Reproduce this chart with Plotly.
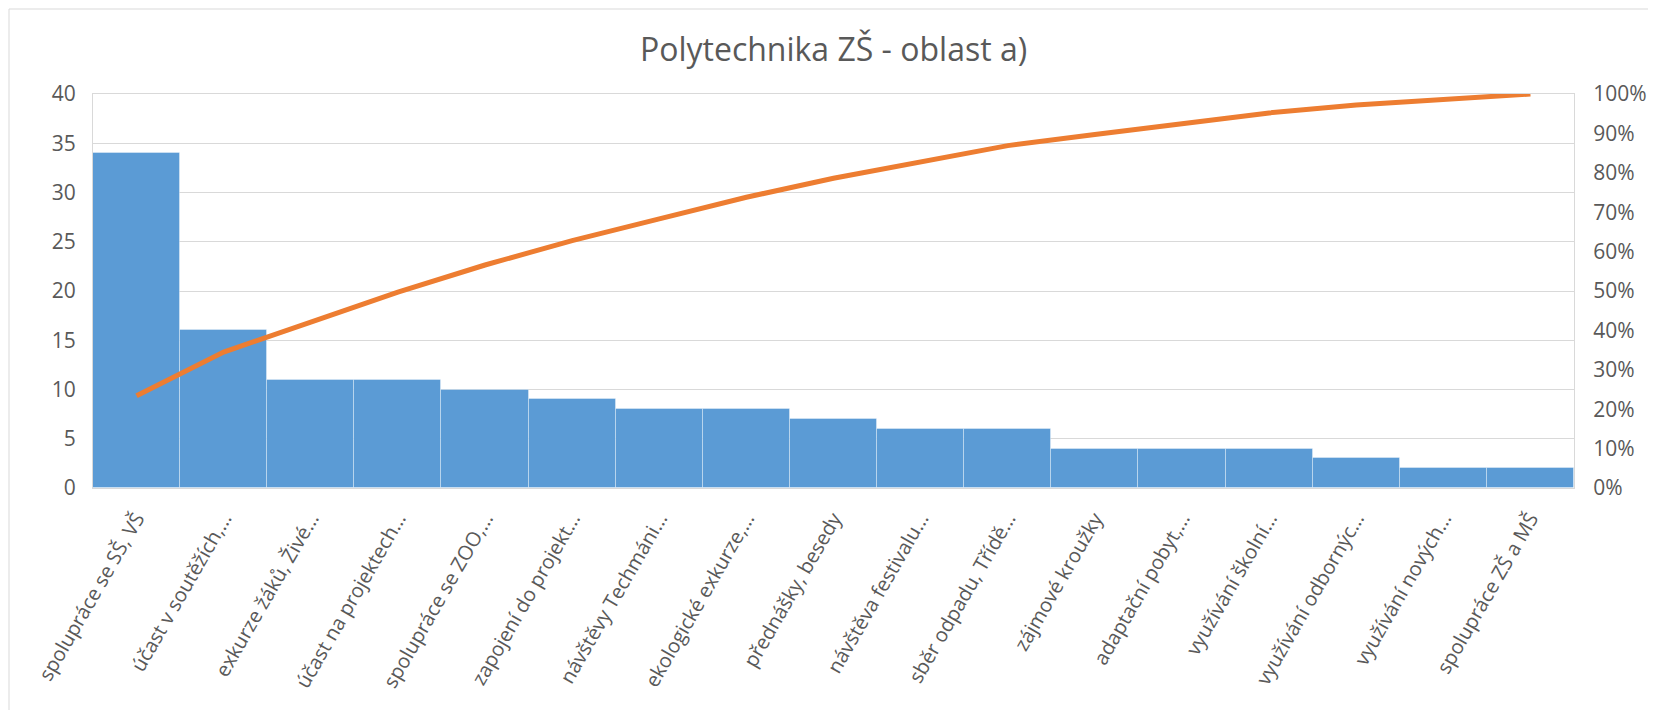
import plotly.graph_objects as go

categories = [
    "spolupráce se SŠ, VŠ",
    "účast v soutěžích,…",
    "exkurze žáků, Živé…",
    "účast na projektech…",
    "spolupráce se ZOO,…",
    "zapojení do projekt…",
    "návštěvy Techmáni…",
    "ekologické exkurze,…",
    "přednášky, besedy",
    "návštěva festivalu…",
    "sběr odpadu, Třídě…",
    "zájmové kroužky",
    "adaptační pobyt,…",
    "využívání školní…",
    "využívání odbornýc…",
    "využívání nových…",
    "spolupráce ZŠ a MŠ",
]
counts = [34, 16, 11, 11, 10, 9, 8, 8, 7, 6, 6, 4, 4, 4, 3, 2, 2]
cumulative_pct = [0.234, 0.345, 0.421, 0.497, 0.566, 0.628, 0.683, 0.738,
                  0.786, 0.828, 0.869, 0.897, 0.924, 0.952, 0.972, 0.986, 1.0]
left_ticks = [0, 5, 10, 15, 20, 25, 30, 35, 40]
right_ticks = [0, 0.1, 0.2, 0.3, 0.4, 0.5, 0.6, 0.7, 0.8, 0.9, 1.0]

FONT = "Open Sans"
GRAY = "#595959"

# page body has an 8px margin; figure placed so the plot area lands where the reference has it
W, H = 1648, 702
ml, mt = 85, 86
pw, ph = 1481, 394
mr, mb = W - ml - pw, H - mt - ph

fig = go.Figure()
fig.add_trace(go.Bar(
    x=categories, y=counts,
    marker=dict(color="#5B9BD5", line=dict(color="rgba(255,255,255,0.35)", width=1)),
    width=1.0, yaxis="y", showlegend=False,
))
fig.add_trace(go.Scatter(
    x=categories, y=cumulative_pct, mode="lines",
    line=dict(color="#ED7D31", width=5),
    yaxis="y2", showlegend=False,
))

fig.update_layout(
    width=W, height=H,
    margin=dict(l=ml, r=mr, t=mt, b=mb),
    paper_bgcolor="white", plot_bgcolor="white",
    font=dict(family=FONT, color=GRAY, size=20),
    bargap=0,
    title=dict(text="Polytechnika ZŠ - oblast a)", x=(ml + pw / 2) / W, xanchor="center",
               y=1 - 42 / H, yanchor="middle",
               font=dict(family=FONT, size=32, color=GRAY)),
    xaxis=dict(
        tickangle=-60, showgrid=False, showline=True, linecolor="#D9D9D9",
        mirror=True, ticks="", ticklabelstandoff=10, automargin=False,
        tickfont=dict(size=20, color=GRAY),
    ),
    yaxis=dict(
        range=[0, 40], tickvals=left_ticks, showgrid=True, gridcolor="#D9D9D9",
        gridwidth=1, zeroline=False, showline=True, linecolor="#D9D9D9",
        ticks="", ticklabelstandoff=12, automargin=False,
        tickfont=dict(size=21, color=GRAY),
    ),
    yaxis2=dict(
        range=[0, 1], tickvals=right_ticks, tickformat=".0%", overlaying="y",
        side="right", showgrid=False, zeroline=False, showline=True,
        linecolor="#D9D9D9", ticks="", ticklabelstandoff=14, automargin=False,
        tickfont=dict(size=21, color=GRAY),
    ),
    shapes=[dict(
        type="rect", xref="paper", yref="paper",
        x0=(1 - ml) / pw, x1=1.2, y0=-1.0, y1=(H - mb - 1) / ph,
        line=dict(color="#D9D9D9", width=1), fillcolor="rgba(0,0,0,0)", layer="below",
    )],
)

fig.write_html("out.html")
